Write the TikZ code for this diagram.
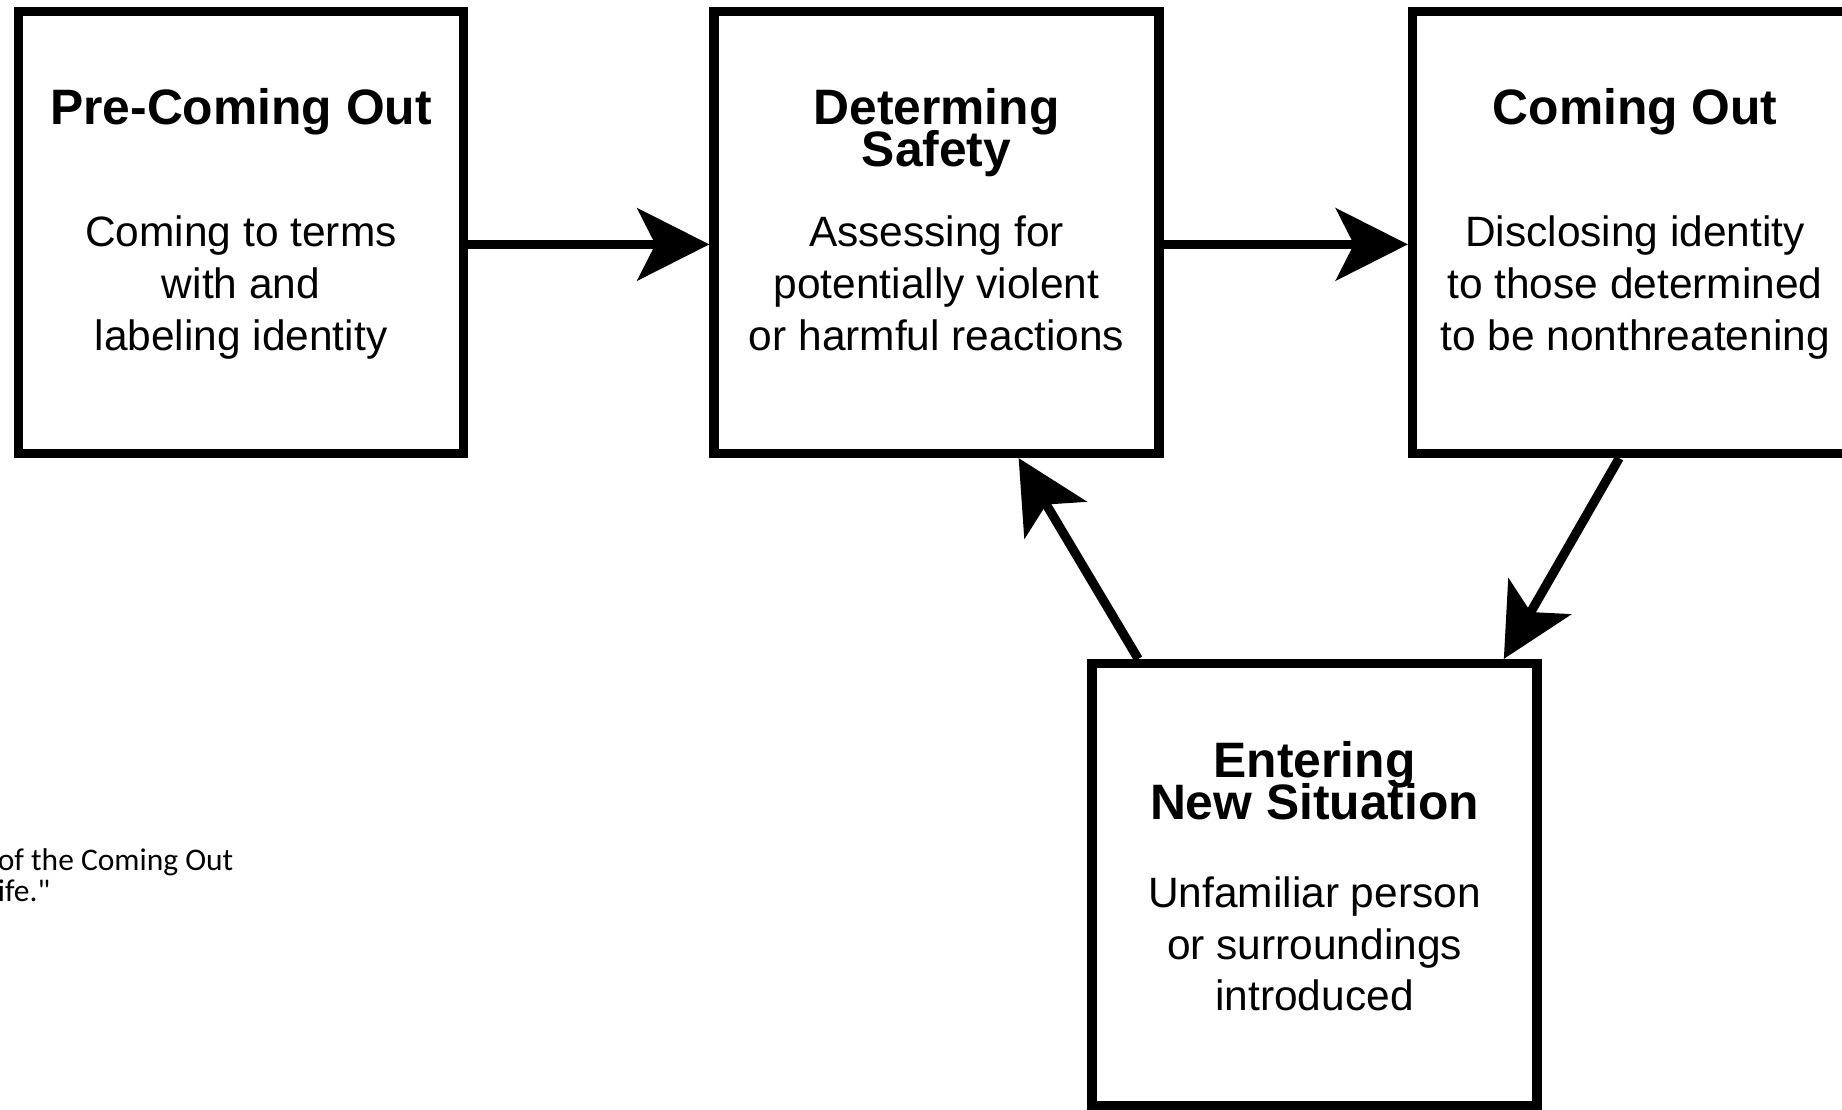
\documentclass[tikz,border=0pt]{standalone}
\usepackage{fontspec}
\setmainfont{Liberation Sans}
\newfontfamily\capfont{Carlito}
\usetikzlibrary{arrows.meta}
\newcommand\stagehead{\fontsize{35.4}{30.2}\selectfont\bfseries}
\newcommand\stagebody{\fontsize{30.2}{36.8}\selectfont}
\begin{document}
\begin{tikzpicture}[
		stage/.style={draw, line width=0.23cm, minimum width=11.125cm, minimum height=11.05cm, inner sep=0pt},
		head/.style={anchor=base, align=center, inner sep=0pt, font=\stagehead, execute at begin node={\lineskiplimit=-100pt\relax}},
		body/.style={anchor=base, align=center, inner sep=0pt, font=\stagebody, execute at begin node={\lineskiplimit=-100pt\relax}},
		flow/.style={line width=0.23cm, -{Stealth[length=1.8cm, width=1.8cm, inset=0.45cm]}}]
		\useasboundingbox (0,0) rectangle (46.05,-27.75);
		\clip (0,0) rectangle (46.05,-27.75);
		\fill[white] (0,0) rectangle (46.05,-27.75);
		% the four stages (texts sit on their last baseline)
		\node[stage] (pre) at (6.025,-5.8125) {};
		\node[stage] (safe) at (23.4125,-5.8125) {};
		\node[stage] (out) at (40.875,-5.8125) {};
		\node[stage] (new) at (32.8625,-22.1125) {};
		\node[head] (preh) at ([yshift=-2.94cm]pre.north) {Pre-Coming Out};
		\node[body] (pret) at ([yshift=-8.58cm]pre.north) {Coming to terms\\with and\\labeling identity};
		\node[head] (safeh) at ([yshift=-4.0cm]safe.north) {Determing\\Safety};
		\node[body] (safet) at ([yshift=-8.58cm]safe.north) {Assessing for\\potentially violent\\or harmful reactions};
		\node[head] (outh) at ([yshift=-2.94cm]out.north) {Coming Out};
		\node[body] (outt) at ([yshift=-8.58cm]out.north) {Disclosing identity\\to those determined\\to be nonthreatening};
		\node[head] (newh) at ([yshift=-4.02cm]new.north) {Entering\\New Situation};
		\node[body] (newt) at ([yshift=-8.8cm]new.north) {Unfamiliar person\\or surroundings\\introduced};
		% cut caption on the left
		\node[anchor=base west, align=left, inner sep=0pt, font=\capfont\fontsize{22.4}{22}\selectfont] (cap) at (-0.06,-22.53) {of the Coming Out\\ife."};
		% connectors
		\draw[flow] (pre.-3.4) -- (safe.183.4);
		\draw[flow] (safe.-3.4) -- (out.183.4);
		\draw[flow] (out.266.5) -- (new.50);
		\draw[flow] (new.128.2) -- (safe.290.3);
	\end{tikzpicture}
\end{document}
